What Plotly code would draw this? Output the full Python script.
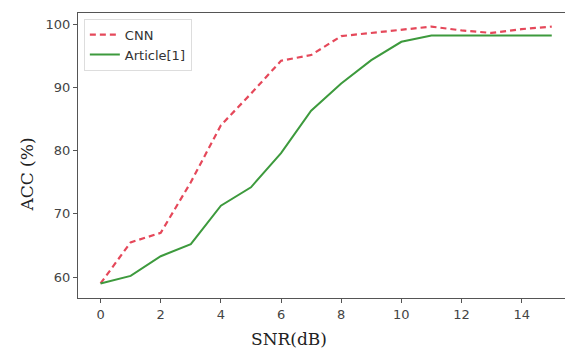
import plotly.graph_objects as go

snr = [0, 1, 2, 3, 4, 5, 6, 7, 8, 9, 10, 11, 12, 13, 14, 15]
cnn = [59.0, 65.5, 67.0, 75.0, 84.0, 89.0, 94.2, 95.1, 98.1, 98.6, 99.2, 99.6, 99.0, 98.6, 99.2, 99.6]
article = [59.0, 60.2, 63.3, 65.2, 71.3, 74.2, 79.6, 86.3, 90.6, 94.3, 97.2, 98.2, 98.2, 98.2, 98.2, 98.2]
xticks = [0, 2, 4, 6, 8, 10, 12, 14]
yticks = [60, 70, 80, 90, 100]

fig = go.Figure()
fig.add_trace(go.Scatter(x=snr, y=cnn, mode="lines", name="CNN",
                         line=dict(color="#e5485a", width=2.2, dash="6px,4px")))
fig.add_trace(go.Scatter(x=snr, y=article, mode="lines", name="Article[1]",
                         line=dict(color="#3d9a3d", width=2)))

axis_common = dict(showline=True, linecolor="#555", linewidth=1.3, mirror=True,
                   showgrid=False, zeroline=False, ticks="outside", ticklen=4,
                   tickcolor="#555", tickfont=dict(family="DejaVu Sans", size=13, color="#444"))

fig.update_layout(
    width=565, height=349,
    margin=dict(l=78, r=0, t=13, b=51),
    paper_bgcolor="white", plot_bgcolor="white",
    showlegend=True,
    legend=dict(x=0.012, y=0.98, xanchor="left", yanchor="top",
                bgcolor="white", bordercolor="#ddd", borderwidth=1,
                font=dict(family="DejaVu Sans", size=13, color="#333"),
                tracegroupgap=0),
    xaxis=dict(range=[-0.75, 15.44], tickvals=xticks, **axis_common),
    yaxis=dict(range=[56.7, 101.75], tickvals=yticks, **axis_common),
    annotations=[
        dict(text="SNR(dB)", xref="paper", yref="paper", x=0.433, y=0, yshift=-41,
             showarrow=False, xanchor="center", yanchor="middle",
             font=dict(family="DejaVu Serif", size=17, color="#222")),
        dict(text="ACC (%)", xref="paper", yref="paper", x=0, xshift=-51, y=0.433,
             showarrow=False, xanchor="center", yanchor="middle", textangle=-90,
             font=dict(family="DejaVu Serif", size=17, color="#222")),
    ],
)

fig.write_html("out.html")
